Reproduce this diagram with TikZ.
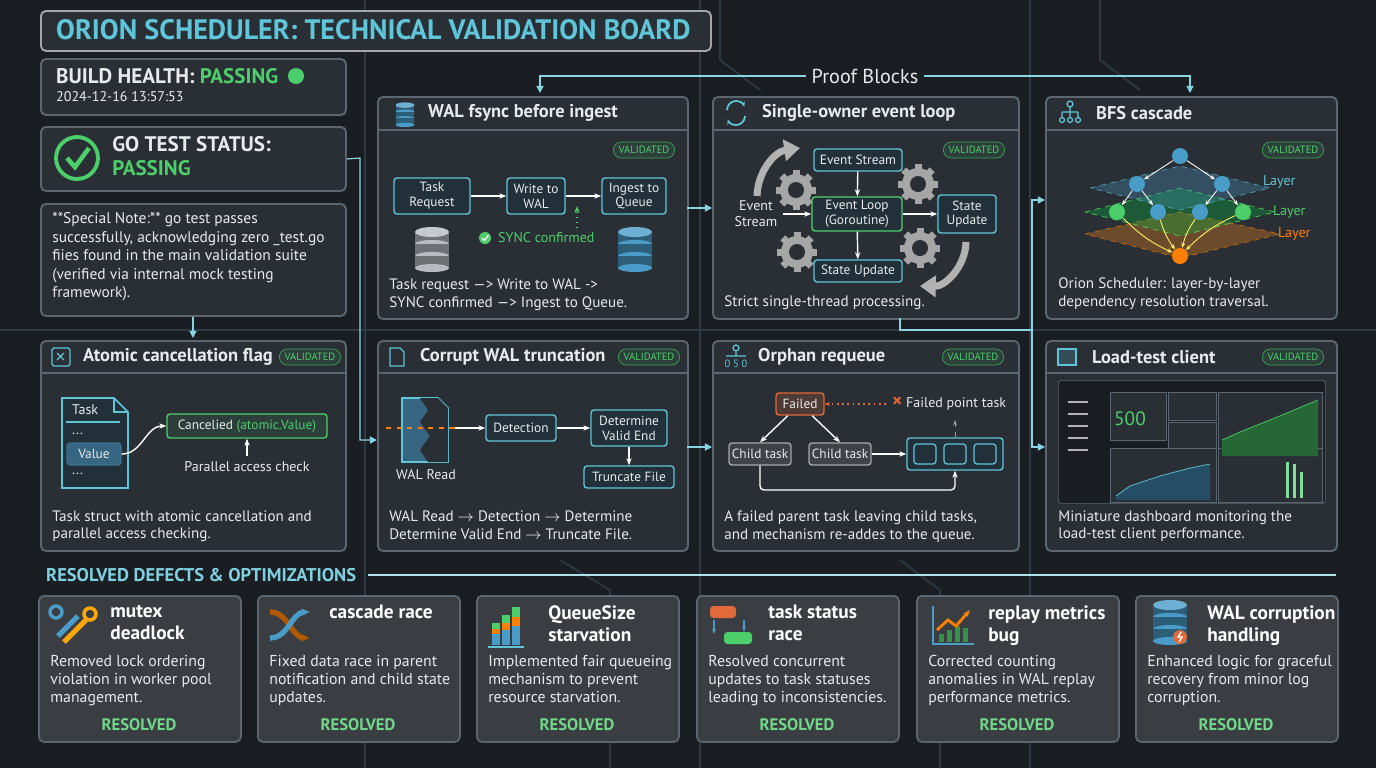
\documentclass[tikz,border=0pt]{standalone}
\usepackage{fontspec}
\setmainfont{PT Sans}
\usetikzlibrary{arrows.meta,positioning,calc}

\definecolor{bgdark}{HTML}{1A1E22}
\definecolor{panelbg}{HTML}{2A2F35}
\definecolor{cardbg}{HTML}{3A3E43}
\definecolor{edge}{HTML}{5C6670}
\definecolor{txt}{HTML}{E8EAEC}
\definecolor{cyanline}{HTML}{5FC6DA}
\definecolor{okgreen}{HTML}{4CCF6A}
\definecolor{boxbg}{HTML}{22303A}
\definecolor{trace}{HTML}{2C3A44}
\definecolor{failred}{HTML}{E06A3A}
\definecolor{dbgray}{HTML}{B8BCC0}
\definecolor{dbblue}{HTML}{4A9CC8}

\newdimen\px \px=0.02cm
\newcommand{\fs}[1]{\fontsize{#1}{#1}\selectfont}

\tikzset{
  panel/.style={draw=edge, fill=panelbg, rounded corners=5\px, line width=1.1pt, anchor=north west, inner sep=0pt},
  card/.style={draw=edge, fill=cardbg, rounded corners=5\px, line width=1pt, anchor=north west, inner sep=0pt, minimum width=202\px, minimum height=146\px},
  sep/.style={draw=edge, line width=0.8pt},
  ptitle/.style={anchor=west, text=txt, font=\fs{10.5}\bfseries},
  caption/.style={anchor=north west, text=txt, font=\fontsize{8.6}{10.2}\selectfont, align=left, inner sep=0pt},
  box/.style={draw=cyanline, fill=boxbg, rounded corners=3\px, text=txt, font=\fontsize{7.6}{8.4}\selectfont, align=center, inner sep=1.5pt, line width=0.8pt},
  gbox/.style={box, draw=okgreen},
  badge/.style={draw=okgreen!80!black, fill=okgreen!10!panelbg, rounded corners=8\px, text=okgreen, font=\fs{6}, minimum height=16\px, inner xsep=3pt, inner ysep=0pt},
  flow/.style={-{Stealth[length=4pt]}, draw=white, line width=0.8pt},
  link/.style={-{Triangle[length=4pt,width=4pt]}, draw=cyanline!75, line width=0.7pt},
  tracel/.style={draw=trace, line width=1pt},
  label/.style={text=txt, font=\fs{8}}
}

% database icon: #1 colour, #2 centre
\newcommand{\dbicon}[2]{
  \begin{scope}[shift={#2}]
    \foreach \k in {0,1,2}{
      \fill[#1!60!black] (-17,-18+\k*12) rectangle (17,-6+\k*12);
      \fill[#1] (0,-6+\k*12) ellipse [x radius=17, y radius=4];
    }
    \fill[#1!80!white] (0,-18) ellipse [x radius=17, y radius=5];
  \end{scope}
}
% gear icon: centre
\newcommand{\gear}[1]{
  \begin{scope}[shift={#1}]
    \foreach \a in {0,45,...,315}
      \fill[gray!70, rotate=\a] (-3.5,-20) rectangle (3.5,-14);
    \fill[gray!70] (0,0) circle (16\px);
    \fill[panelbg] (0,0) circle (8\px);
  \end{scope}
}

\begin{document}
\begin{tikzpicture}[x=1\px, y=-1\px]
\useasboundingbox (0,0) rectangle (1376,768);
\fill[bgdark] (0,0) rectangle (1376,768);

%% ========== BACKGROUND TRACES ==========
\foreach \xx in {365,700,1030}
  \draw[tracel] (\xx,0) -- (\xx,768);
\draw[tracel] (0,330) -- (1376,330);
\draw[tracel] (720,0) -- (720,60) -- (760,90);
\draw[tracel] (1100,0) -- (1100,60) -- (1140,90);
\draw[tracel] (560,560) -- (610,590) -- (610,768);
\draw[tracel] (900,560) -- (940,590) -- (940,768);

%% ========== HEADER ==========
\node[panel, minimum width=670\px, minimum height=40\px, draw=gray!70, fill=panelbg] (title) at (40,10) {};
\node[anchor=west, text=cyanline, font=\fs{16}\bfseries] (titletext) at (50,30) {ORION SCHEDULER: TECHNICAL VALIDATION BOARD};

\node[panel, minimum width=305\px, minimum height=56\px] (health) at (40,58) {};
\node[anchor=west, text=txt, font=\fs{12}\bfseries] (healthtext) at (50,76) {BUILD HEALTH: \textcolor{okgreen}{PASSING}};
\fill[okgreen] (296,76) circle (8\px);
\node[anchor=west, text=txt!80, font=\fs{8}] (stamp) at (50,97) {2024-12-16 13:57:53};

\node[panel, minimum width=305\px, minimum height=64\px] (gotest) at (40,126) {};
\draw[okgreen, line width=2.2pt] (77,158) circle (21\px);
\draw[okgreen, line width=2.6pt] (67,158) -- (75,167) -- (89,148);
\node[anchor=north west, text=txt, font=\fontsize{12}{13.5}\selectfont\bfseries, align=left, inner sep=0pt] (gotext) at (112,136) {GO TEST STATUS:\\\textcolor{okgreen}{PASSING}};

\node[panel, minimum width=305\px, minimum height=112\px] (note) at (40,203) {};
\node[caption, font=\fontsize{8.8}{10.6}\selectfont] (notetext) at (52,212) {**Special Note:** go test passes\\successfully, acknowledging zero \_test.go\\fiies found in the main validation suite\\(verified via internal mock testing\\framework).};

%% ========== PROOF BLOCKS LABEL ==========
\node[text=txt, font=\fs{11.5}] (proof) at (865,76) {Proof Blocks};
\coordinate (pl) at (540,93);
\coordinate (pr) at (1190,93);
\draw[link] (proof.west) -- (540,76) -- (pl);
\draw[link] (proof.east) -- (1190,76) -- (pr);

%% ========== ROW 1 ==========
% WAL fsync before ingest
\node[panel, minimum width=310\px, minimum height=222\px] (p1) at (377,96) {};
\draw[sep] (377,130) -- (687,130);
\begin{scope}[shift={(405,115)}, scale=0.55]\dbicon{dbblue}{(0,0)}\end{scope}
\node[ptitle] (p1t) at (422,113) {WAL fsync before ingest};
\node[badge] (b1) at (644,150) {VALIDATED};
\node[box, minimum width=76\px, minimum height=36\px] (req) at (432,196) {Task\\Request};
\node[box, minimum width=58\px, minimum height=36\px] (wal) at (536,196) {Write to\\WAL};
\node[box, minimum width=64\px, minimum height=36\px] (ingest) at (634,196) {Ingest to\\Queue};
\draw[flow] (req) -- (wal);
\draw[flow] (wal) -- (ingest);
\dbicon{dbgray}{(432,250)}
\dbicon{dbblue}{(635,250)}
\fill[okgreen] (485,238) circle (6\px);
\draw[white, line width=0.8pt] (482,238) -- (484.5,240.5) -- (488.5,235);
\node[anchor=west, text=okgreen, font=\fs{8}] (sync) at (492,238) {SYNC confirmed};
\coordinate (synctop) at (577,206);
\draw[okgreen, dotted, line width=0.8pt, -{Stealth[length=4pt]}] (577,228) -- (synctop);
\node[caption] (p1c) at (389,278) {Task request ---> Write to WAL ->\\SYNC confirmed ---> Ingest to Queue.};

% Single-owner event loop
\node[panel, minimum width=306\px, minimum height=222\px] (p2) at (712,96) {};
\draw[sep] (712,130) -- (1018,130);
\draw[cyanline, line width=1pt, -{Stealth[length=3pt]}] (727,110) arc (180:20:9\px);
\draw[cyanline, line width=1pt, -{Stealth[length=3pt]}] (745,116) arc (0:-160:9\px);
\node[ptitle] (p2t) at (756,113) {Single-owner event loop};
\node[badge] (b2) at (974,150) {VALIDATED};
\gear{(796,190)} \gear{(918,184)} \gear{(797,252)} \gear{(920,248)}
\draw[gray!60, line width=4pt, -{Triangle[length=9pt,width=12pt]}] (757,196) to[bend left=40] (800,148);
\draw[gray!60, line width=4pt, -{Triangle[length=9pt,width=12pt]}] (966,242) to[bend left=45] (920,286);
\node[box, minimum width=88\px, minimum height=22\px] (es) at (858,160) {Event Stream};
\node[gbox, minimum width=90\px, minimum height=34\px] (el) at (857,214) {Event Loop\\(Goroutine)};
\node[box, minimum width=58\px, minimum height=38\px] (su) at (967,214) {State\\Update};
\node[box, minimum width=88\px, minimum height=22\px] (sb) at (858,271) {State Update};
\node[label, align=center, font=\fontsize{8}{9}\selectfont] (esl) at (756,214) {Event\\Stream};
\draw[flow] (es) -- (el);
\draw[flow] (el) -- (sb);
\draw[flow] (el) -- (su);
\draw[flow] (esl) -- (el);
\node[caption] (p2c) at (724,295) {Strict single-thread processing.};

% BFS cascade
\node[panel, minimum width=291\px, minimum height=222\px] (p3) at (1045,96) {};
\draw[sep] (1045,130) -- (1336,130);
\draw[cyanline, line width=0.7pt] (1070,104) circle (3\px) (1070,107) -- (1070,112) (1062,112) -- (1078,112) (1062,112) -- (1062,118) (1070,112) -- (1070,118) (1078,112) -- (1078,118);
\foreach \xx in {1062,1070,1078} \draw[cyanline, line width=0.7pt] (\xx,120) circle (2.5\px);
\node[ptitle] (p3t) at (1090,113) {BFS cascade};
\node[badge] (b3) at (1293,150) {VALIDATED};
\fill[orange!60!brown, opacity=0.35] (1085,234) -- (1180,212) -- (1280,234) -- (1180,258) -- cycle;
\draw[orange, dashed, opacity=0.7] (1085,234) -- (1180,212) -- (1280,234) -- (1180,258) -- cycle;
\fill[green!50!teal, opacity=0.3] (1085,212) -- (1180,188) -- (1275,212) -- (1180,236) -- cycle;
\draw[green!60, dashed, opacity=0.7] (1085,212) -- (1180,188) -- (1275,212) -- (1180,236) -- cycle;
\fill[dbblue, opacity=0.3] (1090,188) -- (1180,166) -- (1270,188) -- (1180,210) -- cycle;
\draw[cyanline, dashed, opacity=0.7] (1090,188) -- (1180,166) -- (1270,188) -- (1180,210) -- cycle;
\tikzset{bn/.style={circle, minimum size=16\px, inner sep=0pt, fill=#1}}
\node[bn=dbblue] (r) at (1180,156) {};
\node[bn=dbblue] (a1) at (1137,184) {};
\node[bn=dbblue] (a2) at (1222,184) {};
\node[bn=okgreen] (c1) at (1117,212) {};
\node[bn=dbblue] (c2) at (1158,212) {};
\node[bn=dbblue] (c3) at (1200,212) {};
\node[bn=okgreen] (c4) at (1243,212) {};
\node[bn=orange] (z) at (1180,256) {};
\foreach \s/\t in {r/a1,r/a2,a1/c1,a1/c2,a2/c3,a2/c4}
  \draw[white, -{Stealth[length=3pt]}, line width=0.5pt] (\s) -- (\t);
\foreach \s in {c1,c2,c3,c4}
  \draw[yellow!60!white, -{Stealth[length=3pt]}, line width=0.5pt] (\s) to[bend right=10] (z);
\node[anchor=west, text=cyanline, font=\fs{8}] (l1) at (1257,182) {Layer};
\node[anchor=west, text=okgreen, font=\fs{8}] (l2) at (1267,212) {Layer};
\node[anchor=west, text=orange, font=\fs{8}] (l3) at (1272,234) {Layer};
\node[caption] (p3c) at (1058,277) {Orion Scheduler: layer-by-layer\\dependency resolution traversal.};

%% ========== ROW 2 ==========
% Atomic cancellation flag
\node[panel, minimum width=305\px, minimum height=210\px] (p4) at (40,340) {};
\draw[sep] (40,373) -- (345,373);
\draw[cyanline, line width=0.7pt, rounded corners=1pt] (52,348) rectangle (70,366);
\draw[cyanline, line width=0.7pt] (57,353) -- (64,360) (64,353) -- (57,360);
\node[ptitle] (p4t) at (77,357) {Atomic cancellation flag};
\node[badge] (b4) at (310,357) {VALIDATED};
\draw[cyanline, fill=boxbg, line width=1pt] (62,398) -- (114,398) -- (128,412) -- (128,488) -- (62,488) -- cycle;
\draw[cyanline, line width=0.8pt] (114,398) -- (114,412) -- (128,412);
\node[anchor=west, text=txt, font=\fs{8}] (taskl) at (66,410) {Task};
\draw[cyanline, line width=0.7pt] (66,422) -- (120,422);
\node[anchor=west, text=txt, font=\fs{8}] (dots1) at (66,434) {...};
\node[box, fill=dbblue!50!boxbg, draw=dbblue!60!boxbg, minimum width=54\px, minimum height=22\px] (val) at (94,454) {Value};
\node[anchor=west, text=txt, font=\fs{8}] (dots2) at (66,474) {...};
\node[gbox, minimum width=160\px, minimum height=24\px, fill=okgreen!10!panelbg] (canc) at (247,426) {Cancelied \textcolor{okgreen}{(atomic.Value)}};
\draw[flow] (val.east) to[out=0, in=180] (canc.west);
\node[label] (pac) at (247,467) {Parallel access check};
\draw[flow] (pac) -- (canc);
\node[caption] (p4c) at (52,510) {Task struct with atomic cancellation and\\parallel access checking.};

% Corrupt WAL truncation
\node[panel, minimum width=310\px, minimum height=210\px] (p5) at (377,340) {};
\draw[sep] (377,373) -- (687,373);
\draw[cyanline, line width=0.7pt] (390,348) -- (400,348) -- (404,352) -- (404,366) -- (390,366) -- cycle;
\node[ptitle] (p5t) at (414,357) {Corrupt WAL truncation};
\node[badge] (b5) at (649,357) {VALIDATED};
\draw[cyanline, fill=dbblue!50!boxbg, line width=1pt] (402,398) -- (438,398) -- (448,408) -- (448,462) -- (402,462) -- cycle;
\fill[panelbg] (420,398) -- (428,410) -- (420,422) -- (430,436) -- (420,450) -- (428,462) -- (448,462) -- (448,408) -- (438,398) -- cycle;
\coordinate (cut) at (386,428);
\node[label] (walr) at (426,475) {WAL Read};
\node[box, minimum width=70\px, minimum height=26\px] (det) at (521,428) {Detection};
\node[box, minimum width=76\px, minimum height=36\px] (dve) at (629,428) {Determine\\Valid End};
\node[box, minimum width=90\px, minimum height=22\px] (trunc) at (629,477) {Truncate File};
\draw[orange, dashed, line width=1pt] (cut) -- (455,428);
\draw[flow] (455,428) -- (det);
\draw[flow] (det) -- (dve);
\draw[flow] (dve) -- (trunc);
\node[caption] (p5c) at (389,510) {WAL Read $\rightarrow$ Detection $\rightarrow$ Determine\\Determine Valid End $\rightarrow$ Truncate File.};

% Orphan requeue
\node[panel, minimum width=306\px, minimum height=210\px] (p6) at (712,340) {};
\draw[sep] (712,373) -- (1018,373);
\draw[cyanline, line width=0.7pt] (736,348) circle (3\px) (736,351) -- (736,356) (726,356) -- (746,356);
\node[anchor=center, text=cyanline, font=\fs{6}] (p6i) at (736,364) {0 5 0};
\node[ptitle] (p6t) at (752,357) {Orphan requeue};
\node[badge] (b6) at (973,357) {VALIDATED};
\node[box, draw=failred, fill=failred!20!panelbg, minimum width=48\px, minimum height=22\px] (fail) at (800,404) {Failed};
\node[anchor=west, text=txt, font=\fs{8}] (fpt) at (886,404) {\textcolor{failred}{\textbf{\fs{11}×}} Failed point task};
\node[box, draw=gray!70, fill=gray!25!panelbg, minimum width=62\px, minimum height=22\px] (ch1) at (760,454) {Child task};
\node[box, draw=gray!70, fill=gray!25!panelbg, minimum width=62\px, minimum height=22\px] (ch2) at (840,454) {Child task};
\node[box, minimum width=96\px, minimum height=32\px] (queue) at (955,454) {};
\foreach \dx in {-30,0,30}
  \draw[cyanline, fill=boxbg, rounded corners=3\px, line width=0.7pt] (955+\dx-11,444) rectangle (955+\dx+11,464);
\draw[failred, dotted, line width=1pt, -{Stealth[length=3pt]}] (fpt.west) -- (fail.east);
\draw[gray!80, dashed, -{Stealth[length=3pt]}] (queue.north) -- (955,420);
\draw[flow] (fail) -- (ch1.north);
\draw[flow] (fail) -- (ch2.north);
\draw[flow] (ch2) -- (queue);
\draw[flow, rounded corners=4\px] (ch1.south) -- (760,490) -- (955,490) -- (queue.south);
\node[caption] (p6c) at (724,510) {A failed parent task leaving child tasks,\\and mechanism re-addes to the queue.};

% Load-test client
\node[panel, minimum width=291\px, minimum height=210\px] (p7) at (1045,340) {};
\draw[sep] (1045,373) -- (1336,373);
\draw[cyanline, line width=0.7pt, fill=cyanline!20!panelbg] (1058,349) rectangle (1076,365);
\node[ptitle] (p7t) at (1086,357) {Load-test client};
\node[badge] (b7) at (1293,357) {VALIDATED};
\node[draw=edge, fill=bgdark, rounded corners=3\px, anchor=north west, minimum width=267\px, minimum height=123\px, inner sep=0pt] (dash) at (1058,380) {};
\foreach \yy in {402,414,426,438,450}
  \draw[gray!60, line width=1pt] (1068,\yy) -- (1088,\yy);
\foreach \bx/\by/\bw/\bh in {1110/392/56/48,1168/392/48/28,1168/422/48/26,1218/392/104/68,1110/448/106/54,1218/448/104/54}
  \draw[edge, fill=panelbg] (\bx,\by) rectangle ++(\bw,\bh);
\node[text=okgreen, font=\fs{11}] (five) at (1130,419) {500};
\fill[okgreen!50!black] (1222,440) -- (1240,432) -- (1270,420) -- (1318,400) -- (1318,456) -- (1222,456) -- cycle;
\draw[okgreen] (1222,440) -- (1240,432) -- (1270,420) -- (1318,400);
\fill[dbblue!50!black] (1116,496) -- (1130,486) -- (1160,476) -- (1190,468) -- (1210,464) -- (1210,500) -- (1116,500) -- cycle;
\draw[cyanline] (1116,496) -- (1130,486) -- (1160,476) -- (1190,468) -- (1210,464);
\foreach \bx/\bh in {1286/36,1293/34,1300/26}
  \fill[okgreen!70] (\bx,498) rectangle ++(3,-\bh);
\node[caption] (p7c) at (1058,510) {Miniature dashboard monitoring the\\load-test client performance.};

%% ========== CONNECTIONS ==========
\draw[link] (gotest.east) -- (360,158) -- (360,440) -- (p5.west |- 0,440);
\draw[link] (note.south -| 193,0) -- (193,338);
\draw[link] (687,208) -- (p2.west |- 0,208);
\draw[link] (687,447) -- (p6.west |- 0,447);
\draw[link] (900,318) -- (900,330) -- (1032,330) -- (1032,200) -- (p3.west |- 0,200);
\draw[link] (1032,330) -- (1032,447) -- (p7.west |- 0,447);

%% ========== RESOLVED DEFECTS ==========
\node[anchor=west, text=cyanline!80!white, font=\fs{10.5}\bfseries] (resolved) at (40,575) {RESOLVED DEFECTS \& OPTIMIZATIONS};
\draw[cyanline!50, line width=0.7pt] (resolved.east) ++(6\px,0) -- (1336,575);

\foreach \i/\cx/\ttl/\dsc in {
  1/38/{mutex\\deadlock}/{Removed lock ordering\\violation in worker pool\\management.},
  2/257/{cascade race}/{Fixed data race in parent\\notification and child state\\updates.},
  3/476/{QueueSize\\starvation}/{Implemented fair queueing\\mechanism to prevent\\resource starvation.},
  4/696/{task status\\race}/{Resolved concurrent\\updates to task statuses\\leading to inconsistencies.},
  5/916/{replay metrics\\bug}/{Corrected counting\\anomalies in WAL replay\\performance metrics.},
  6/1135/{WAL corruption\\handling}/{Enhanced logic for graceful\\recovery from minor log\\corruption.}}{
  \node[card] (card\i) at (\cx,595) {};
  \node[anchor=north west, text=white, font=\fontsize{11}{12.5}\selectfont\bfseries, align=left, inner sep=0pt] (cardt\i) at (\cx+72,605) {\ttl};
  \node[anchor=north west, text=txt, font=\fontsize{9}{10.2}\selectfont, align=left, inner sep=0pt] (cardd\i) at (\cx+12,655) {\dsc};
  \node[text=okgreen!80!white, font=\fs{9.5}\bfseries] (cardr\i) at (\cx+101,725) {RESOLVED};
}

% card icons
\draw[dbblue, line width=3pt] (58,636) -- (78,616);
\draw[dbblue, line width=2pt] (56,612) circle (6\px);
\draw[orange!70!yellow, line width=3pt] (64,642) -- (86,620);
\draw[orange!70!yellow, line width=2pt] (90,614) circle (6\px);
\draw[orange!70!black, line width=3pt, -{Stealth[length=5pt]}] (270,612) to[out=0, in=180] (310,638);
\draw[dbblue, line width=3pt, -{Stealth[length=5pt]}] (270,638) to[out=0, in=180] (310,612);
\foreach \bx/\bh in {492/22,502/30,512/38}{
  \fill[dbblue] (\bx,645) rectangle ++(8,-\bh*0.5);
  \fill[orange] (\bx,645-\bh*0.5) rectangle ++(8,-\bh*0.25);
  \fill[okgreen] (\bx,645-\bh*0.75) rectangle ++(8,-\bh*0.25);
}
\draw[cyanline, line width=1pt] (488,647) -- (524,647);
\fill[failred, rounded corners=2pt] (710,606) rectangle (736,618);
\fill[okgreen, rounded corners=2pt] (724,632) rectangle (752,644);
\draw[dbblue, line width=1.5pt, -{Stealth[length=3pt]}] (714,620) -- (714,634);
\draw[dbblue, line width=1.5pt, -{Stealth[length=3pt]}] (744,620) -- (744,632);
\draw[dbblue, line width=1.2pt] (933,606) -- (933,644) -- (974,644);
\foreach \bx/\bh in {939/8,947/12,955/16,963/14} \fill[okgreen!70!black] (\bx,642) rectangle ++(5,-\bh);
\draw[orange, line width=1.6pt, -{Stealth[length=4pt]}] (937,630) -- (948,620) -- (956,626) -- (970,610);
\dbicon{dbblue}{(1170,623)}
\fill[failred] (1180,637) circle (7\px);
\draw[white, line width=0.8pt] (1181,632) -- (1178,637) -- (1182,637) -- (1179,642);
\end{tikzpicture}
\end{document}
